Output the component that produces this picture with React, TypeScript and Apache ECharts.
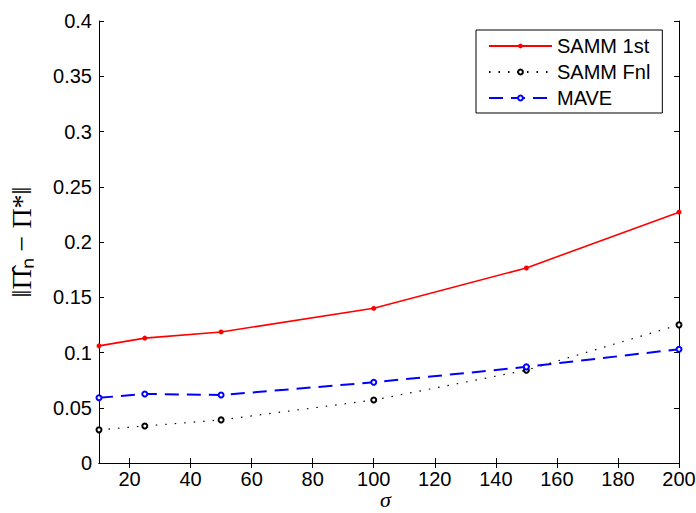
import React, { useEffect, useRef } from "react";
import * as echarts from "echarts";

const sigma = [10, 25, 50, 100, 150, 200];
const samm1st = [0.106, 0.113, 0.1186, 0.140, 0.1765, 0.227];
const sammFnl = [0.030, 0.0335, 0.039, 0.057, 0.084, 0.125];
const mave = [0.059, 0.0625, 0.0615, 0.073, 0.087, 0.103];
const xTicks = [20, 40, 60, 80, 100, 120, 140, 160, 180, 200];

const FONT = "Liberation Sans, Arial, sans-serif";

export default function App() {
  const ref = useRef<HTMLDivElement>(null);
  useEffect(() => {
    const chart = echarts.init(ref.current!, null, { renderer: "svg" });
    const pair = (ys: number[]) => sigma.map((x, i) => [x, ys[i]]);
    const axisLine = { show: true, lineStyle: { color: "#000", width: 1 } };
    chart.setOption({
      animation: false,
      backgroundColor: "#fff",
      grid: { left: 99, top: 21, right: 17, bottom: 50, containLabel: false, outerBoundsMode: "none" },
      legend: {
        left: 476,
        top: 30,
        orient: "vertical",
        backgroundColor: "#fff",
        borderColor: "#000",
        borderWidth: 1,
        padding: [6, 12, 5, 12],
        itemWidth: 63,
        itemHeight: 6,
        itemGap: 6,
        textStyle: { fontFamily: FONT, fontSize: 20, color: "#000" },
        data: ["SAMM 1st", "SAMM Fnl", "MAVE"],
      },
      graphic: [
        {
          type: "text",
          left: 380,
          top: 488,
          style: {
            text: "σ",
            fontFamily: "Liberation Serif, serif",
            fontStyle: "italic",
            fontSize: 22,
            lineHeight: 21,
            fill: "#000",
          },
        },
      ],
      xAxis: [
        {
          type: "value",
          min: 10,
          max: 200,
          splitLine: { show: false },
          axisLine,
          axisTick: { show: true, inside: true, length: 5, customValues: xTicks, lineStyle: { color: "#000" } },
          axisLabel: { customValues: xTicks, fontFamily: FONT, fontSize: 20, lineHeight: 19, color: "#000", margin: 6 },
        },
        {
          type: "value",
          position: "top",
          min: 10,
          max: 200,
          splitLine: { show: false },
          axisLine,
          axisTick: { show: true, inside: true, length: 5, customValues: xTicks, lineStyle: { color: "#000" } },
          axisLabel: { show: false },
        },
      ],
      yAxis: [
        {
          type: "value",
          min: 0,
          max: 0.4,
          interval: 0.05,
          splitLine: { show: false },
          axisLine,
          axisTick: { show: true, inside: true, length: 5, lineStyle: { color: "#000" } },
          axisLabel: { fontFamily: FONT, fontSize: 20, color: "#000", margin: 7 },
          name: "‖Π̂ₙ − Π*‖",
          nameLocation: "middle",
          nameRotate: 90,
          nameGap: 64,
          nameTextStyle: { fontFamily: "Liberation Serif, serif", fontSize: 28, color: "#000" },
        },
        {
          type: "value",
          position: "right",
          min: 0,
          max: 0.4,
          interval: 0.05,
          splitLine: { show: false },
          axisLine,
          axisTick: { show: true, inside: true, length: 5, lineStyle: { color: "#000" } },
          axisLabel: { show: false },
        },
      ],
      series: [
        {
          name: "SAMM 1st",
          type: "line",
          data: pair(samm1st),
          symbol: "circle",
          symbolSize: 5,
          color: "#ff0000",
          lineStyle: { color: "#ff0000", width: 1.6 },
          itemStyle: { color: "#ff0000" },
        },
        {
          name: "SAMM Fnl",
          type: "line",
          data: pair(sammFnl),
          symbol: "emptyCircle",
          symbolSize: 5,
          color: "#000",
          lineStyle: { color: "#000", width: 1.2, type: [1.5, 8] },
          itemStyle: { color: "#000", borderWidth: 1.6 },
        },
        {
          name: "MAVE",
          type: "line",
          data: pair(mave),
          symbol: "emptyCircle",
          symbolSize: 5,
          color: "#0000ff",
          lineStyle: { color: "#0000ff", width: 2, type: [14, 8] },
          itemStyle: { color: "#0000ff", borderWidth: 1.6 },
        },
      ],
    });
    return () => chart.dispose();
  }, []);
  return <div ref={ref} style={{ position: "absolute", left: 0, top: 0, width: 696, height: 513 }} />;
}
